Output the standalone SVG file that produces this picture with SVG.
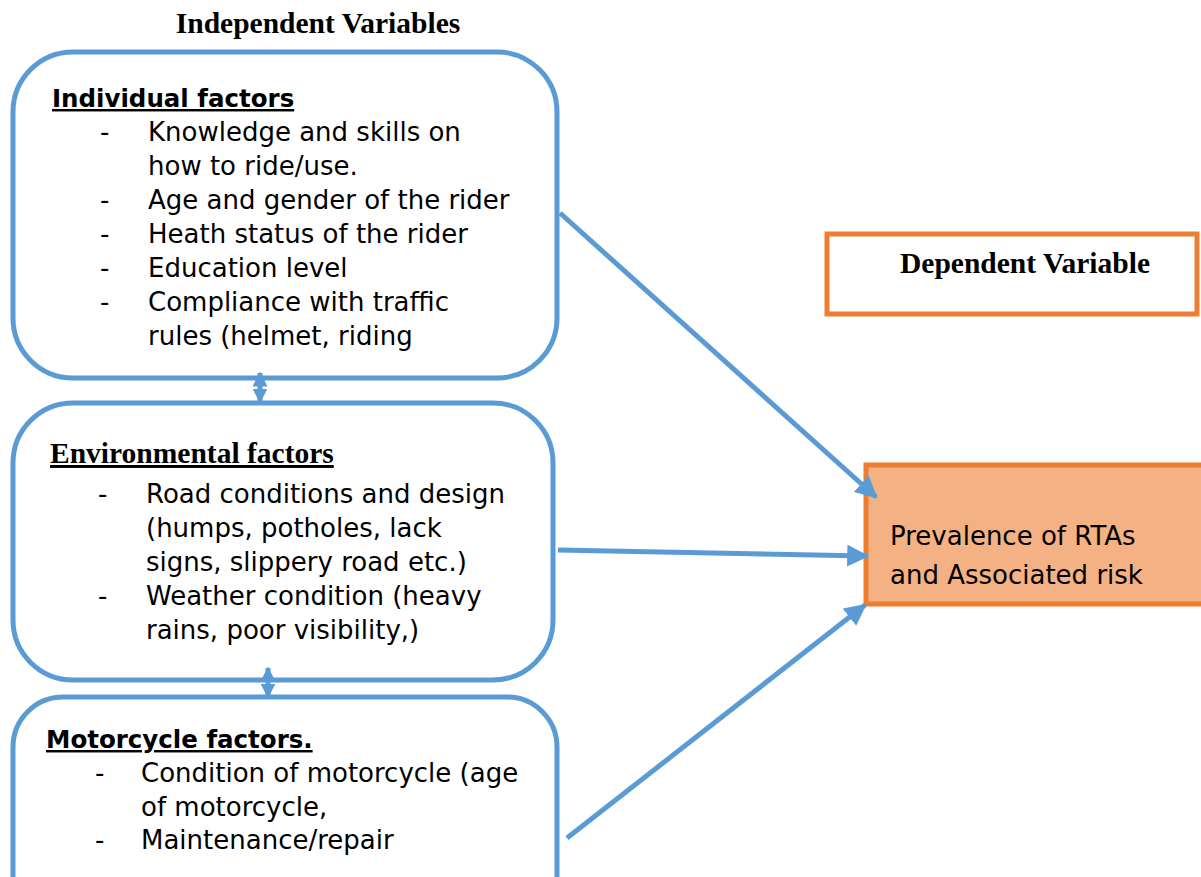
<svg xmlns="http://www.w3.org/2000/svg" width="1201" height="877" viewBox="0 0 1201 877">
<defs>
<style>
.box{fill:#fff;stroke:#5B9BD5;stroke-width:5}
.obox{stroke:#ED7D31;stroke-width:5}
.t{font-family:"DejaVu Sans",sans-serif;font-size:26px;fill:#000}
.p{font-family:"DejaVu Sans",sans-serif;font-size:26px;fill:#000}
.h{font-family:"DejaVu Sans",sans-serif;font-size:24.5px;font-weight:bold;text-decoration:underline;fill:#000}
.s{font-family:"Liberation Serif",serif;font-size:29.5px;font-weight:bold;fill:#000}
.c{stroke:#5B9BD5;stroke-width:5;fill:none}
</style>
<marker id="ah" viewBox="0 0 10 10" refX="9" refY="5" markerWidth="4.4" markerHeight="4.4" orient="auto-start-reverse" markerUnits="strokeWidth">
<path d="M0,0 L10,5 L0,10 z" fill="#5B9BD5"/>
</marker>
<marker id="sh" viewBox="0 0 10 10" refX="9" refY="5" markerWidth="3" markerHeight="3" orient="auto-start-reverse" markerUnits="strokeWidth">
<path d="M0,0 L10,5 L0,10 z" fill="#5B9BD5"/>
</marker>
</defs>
<rect width="1201" height="877" fill="#fff"/>
<text class="s" x="318" y="33" text-anchor="middle">Independent Variables</text>
<g id="individual">
<rect class="box" x="13" y="52" width="544" height="326" rx="60"/>
<text class="h" x="52" y="107">Individual factors</text>
<text class="t" x="100" y="141">-</text><text class="t" x="148" y="141">Knowledge and skills on</text>
<text class="t" x="148" y="175">how to ride/use.</text>
<text class="t" x="100" y="209">-</text><text class="t" x="148" y="209">Age and gender of the rider</text>
<text class="t" x="100" y="243">-</text><text class="t" x="148" y="243">Heath status of the rider</text>
<text class="t" x="100" y="277">-</text><text class="t" x="148" y="277">Education level</text>
<text class="t" x="100" y="311">-</text><text class="t" x="148" y="311">Compliance with traffic</text>
<text class="t" x="148" y="345">rules (helmet, riding</text>
</g>
<g id="environmental">
<rect class="box" x="13" y="403" width="540" height="277" rx="60"/>
<text class="s" x="50" y="463" style="text-decoration:underline">Environmental factors</text>
<text class="t" x="98" y="503">-</text><text class="t" x="146" y="503">Road conditions and design</text>
<text class="t" x="146" y="537">(humps, potholes, lack</text>
<text class="t" x="146" y="571">signs, slippery road etc.)</text>
<text class="t" x="98" y="605">-</text><text class="t" x="146" y="605">Weather condition (heavy</text>
<text class="t" x="146" y="639">rains, poor visibility,)</text>
</g>
<g id="motorcycle">
<rect class="box" x="13" y="697" width="544" height="230" rx="50"/>
<text class="h" x="46" y="748">Motorcycle factors.</text>
<text class="t" x="95" y="782">-</text><text class="t" x="141" y="782">Condition of motorcycle (age</text>
<text class="t" x="141" y="816">of motorcycle,</text>
<text class="t" x="95" y="849">-</text><text class="t" x="141" y="849">Maintenance/repair</text>
</g>
<g id="dependent-label">
<rect class="obox" x="827" y="234" width="370" height="80" fill="#fff"/>
<text class="s" x="1025" y="273" text-anchor="middle">Dependent Variable</text>
</g>
<g id="prevalence">
<rect class="obox" x="866" y="465" width="340" height="139" fill="#F4B183"/>
<text class="p" x="890" y="545">Prevalence of RTAs</text>
<text class="p" x="890" y="584">and Associated risk</text>
</g>
<g id="connectors">
<line class="c" x1="560" y1="213" x2="876" y2="497" marker-end="url(#ah)"/>
<line class="c" x1="558" y1="550" x2="867" y2="556" marker-end="url(#ah)"/>
<line class="c" x1="567" y1="838" x2="865" y2="605" marker-end="url(#ah)"/>
<line class="c" x1="260" y1="373" x2="260" y2="402" stroke-width="3" marker-start="url(#sh)" marker-end="url(#sh)"/>
<line class="c" x1="268" y1="668" x2="268" y2="697" stroke-width="3" marker-start="url(#sh)" marker-end="url(#sh)"/>
</g>
</svg>
